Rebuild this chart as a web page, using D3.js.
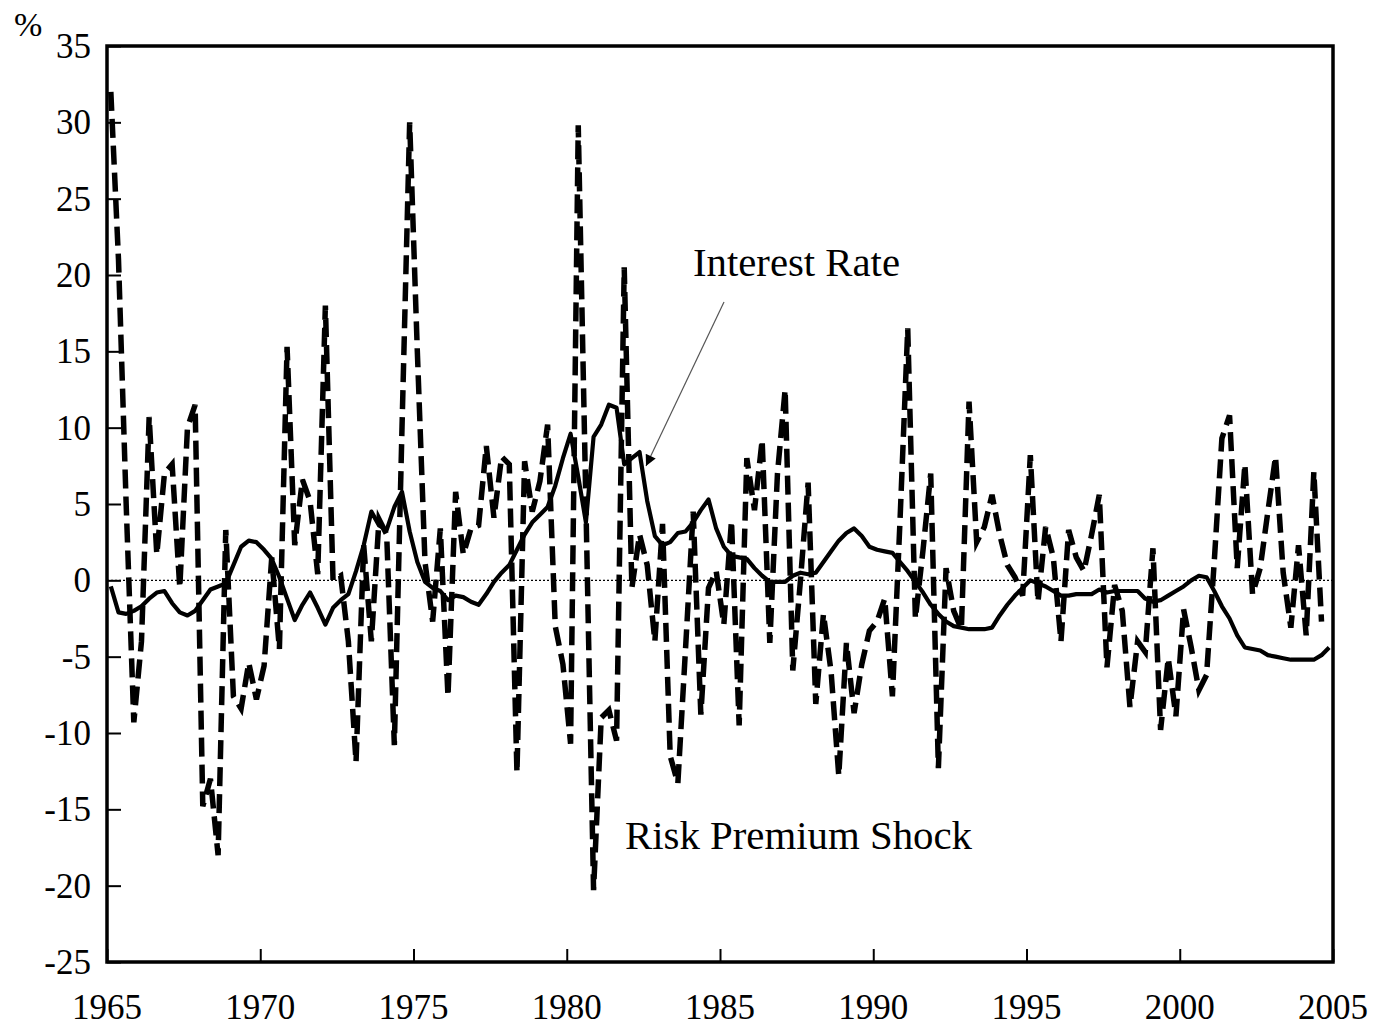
<!DOCTYPE html>
<html>
<head>
<meta charset="utf-8">
<script src="https://cdn.jsdelivr.net/npm/d3@7"></script>
<style>
  html, body { margin: 0; padding: 0; background: #fff; }
  svg { display: block; }
  text { font-family: "Liberation Serif", "Times New Roman", serif; fill: #000; }
</style>
</head>
<body>
<svg id="chart" width="1373" height="1026"></svg>
<script>
// ---- data (quarterly, 1965Q1 onward) ----
const startYear = 1965;
const riskPremium = [
  32, 21, 5, -9.3, -4, 10.7, 1.7, 7, 7.6, -0.5,
  10, 11.5, -14.8, -13, -18, 3.3, -7.6, -8.4, -5.4, -7.8,
  -5.6, 1.5, -4.5, 15.3, 2.3, 6.6, 5.2, 0.4, 18, 0,
  0.3, -4, -11.9, 2.3, -4, 4, 3, -10.8, 10, 30,
  15, 1.2, -2.7, 3.4, -7.6, 5.8, 1.7, 3.4, 3.6, 8.8,
  4.1, 8.1, 7.6, -12.6, 7.8, 4.5, 6.5, 10.2, -3, -5.5,
  -10.7, 29.8, 5, -20.3, -9, -8.5, -10.5, 20.5, -0.5, 3,
  1, -4, 3.7, -11.5, -13.3, -4.5, 4.5, -8.8, -0.5, 0.6,
  -2.9, 3.9, -9.5, 8, 4.6, 9.2, -4.1, 7, 12.5, -5.9,
  0, 6.4, -8.1, -2.2, -6, -12.8, -4.1, -8.7, -5.5, -3.3,
  -2.7, -1.2, -7.6, 4, 16.5, -2.5, 2, 7, -12.3, 0.8,
  -2, -3.2, 11.7, 2.5, 3.5, 5.6, 3, 1, 0.2, -1,
  8.2, -1.4, 3.5, 1.5, -4, 3.3, 1.5, 0.6, 3, 5.6,
  -5.7, -0.3, -2, -8.3, -4, -4.7, 2.1, -9.8, -5.1, -8.9,
  -1.9, -4.4, -7.2, -6.2, 1.2, 9.3, 10.8, 0.8, 7.6, -0.9,
  0.8, 4.5, 8.1, 0.5, -3.1, 2.3, -3.6, 7.1, -2.7
];
const interestRate = [
  -0.4, -2.1, -2.2, -2.0, -1.7, -1.2, -0.8, -0.7, -1.5, -2.1,
  -2.3, -2.0, -1.3, -0.6, -0.4, -0.2, 1.0, 2.2, 2.6, 2.5,
  2.0, 1.4, 0.2, -1.2, -2.6, -1.6, -0.8, -1.8, -2.9, -1.8,
  -1.3, -0.9, 0.6, 2.3, 4.5, 3.6, 3.3, 4.8, 5.8, 3.2,
  1.2, -0.1, -0.5, -0.7, -1.3, -1.0, -1.1, -1.4, -1.6, -0.9,
  -0.1, 0.5, 1.0, 2.0, 3.0, 3.8, 4.3, 4.8, 6.2, 8.0,
  9.6, 6.8, 3.8, 9.4, 10.2, 11.5, 11.3, 7.6, 8.0, 8.4,
  5.2, 2.9, 2.3, 2.5, 3.1, 3.2, 3.8, 4.6, 5.3, 3.4,
  2.2, 1.6, 1.5, 1.4, 0.8, 0.3, -0.1, -0.1, -0.1, 0.3,
  0.5, 0.4, 0.5, 1.2, 1.9, 2.6, 3.1, 3.4, 2.9, 2.2,
  2.0, 1.9, 1.8, 1.2, 0.6, -0.1, -0.8, -1.6, -2.2, -2.7,
  -3.0, -3.1, -3.2, -3.2, -3.2, -3.1, -2.3, -1.6, -1.0, -0.5,
  0.0, -0.2, -0.4, -0.7, -1.0, -1.0, -0.9, -0.9, -0.9, -0.6,
  -0.8, -0.7, -0.7, -0.7, -0.7, -1.2, -1.4, -1.3, -1.0, -0.7,
  -0.4, 0.0, 0.3, 0.2, -0.7, -1.7, -2.5, -3.6, -4.4, -4.5,
  -4.6, -4.9, -5.0, -5.1, -5.2, -5.2, -5.2, -5.2, -4.9, -4.4
];
const yTickValues = [-25, -20, -15, -10, -5, 0, 5, 10, 15, 20, 25, 30, 35];
const xTickValues = [1965, 1970, 1975, 1980, 1985, 1990, 1995, 2000, 2005];
const seriesLabels = ["Interest Rate", "Risk Premium Shock"];
const unitLabel = "%";

(function draw() {
  const svg = d3.select("#chart");
  const pl = 107, pr = 1333, pt = 46, pb = 962;

  const x = d3.scaleLinear().domain([1965, 2005]).range([pl, pr]);
  const y = d3.scaleLinear().domain([-25, 35]).range([pb, pt]);

  // quarter mid-points
  const dateOf = i => startYear + (i + 0.5) / 4;

  // zero reference line (dotted)
  svg.append("line")
    .attr("x1", pl).attr("x2", pr)
    .attr("y1", y(0)).attr("y2", y(0))
    .attr("stroke", "#000").attr("stroke-width", 1.3)
    .attr("stroke-dasharray", "2,2");

  const lineGen = d3.line()
    .x((d, i) => x(dateOf(i)))
    .y(d => y(d));

  svg.append("path")
    .datum(interestRate)
    .attr("d", lineGen)
    .attr("fill", "none")
    .attr("stroke", "#000")
    .attr("stroke-width", 4.2)
    .attr("stroke-linejoin", "round");

  svg.append("path")
    .datum(riskPremium)
    .attr("d", lineGen)
    .attr("fill", "none")
    .attr("stroke", "#000")
    .attr("stroke-width", 5.5)
    .attr("stroke-dasharray", "19,8")
    .attr("stroke-linejoin", "miter");

  // axes (ticks pointing inward)
  const yAxis = d3.axisRight(y).tickValues(yTickValues).tickSize(14).tickFormat("");
  const gy = svg.append("g").attr("transform", `translate(${pl},0)`).call(yAxis);
  gy.select(".domain").remove();
  gy.selectAll(".tick line").attr("stroke", "#000").attr("stroke-width", 2);

  const xAxis = d3.axisTop(x).tickValues(xTickValues).tickSize(13).tickFormat("");
  const gx = svg.append("g").attr("transform", `translate(0,${pb})`).call(xAxis);
  gx.select(".domain").remove();
  gx.selectAll(".tick line").attr("stroke", "#000").attr("stroke-width", 2);

  // frame
  svg.append("rect")
    .attr("x", pl).attr("y", pt)
    .attr("width", pr - pl).attr("height", pb - pt)
    .attr("fill", "none").attr("stroke", "#000").attr("stroke-width", 3.5);

  // tick labels
  svg.append("g").selectAll("text")
    .data(yTickValues).join("text")
    .attr("x", pl - 16)
    .attr("y", d => y(d) + 12)
    .attr("text-anchor", "end")
    .attr("font-size", 35)
    .text(d => d);

  svg.append("g").selectAll("text")
    .data(xTickValues).join("text")
    .attr("x", d => x(d))
    .attr("y", 1019)
    .attr("text-anchor", "middle")
    .attr("font-size", 35)
    .text(d => d);

  // unit label
  svg.append("text").attr("x", 14).attr("y", 36).attr("font-size", 34).text(unitLabel);

  // annotations
  svg.append("text").attr("x", 693).attr("y", 276).attr("font-size", 40)
    .attr("textLength", 207).attr("lengthAdjust", "spacingAndGlyphs")
    .text(seriesLabels[0]);
  svg.append("text").attr("x", 625).attr("y", 849).attr("font-size", 40)
    .attr("textLength", 347).attr("lengthAdjust", "spacingAndGlyphs")
    .text(seriesLabels[1]);

  // arrow
  const defs = svg.append("defs");
  defs.append("marker").attr("id", "ah")
    .attr("viewBox", "0 0 10 10").attr("refX", 10).attr("refY", 5)
    .attr("markerWidth", 16).attr("markerHeight", 11)
    .attr("markerUnits", "userSpaceOnUse")
    .attr("orient", "auto")
    .append("path").attr("d", "M0,0 L10,5 L0,10 z").attr("fill", "#000");
  svg.append("line")
    .attr("x1", 724).attr("y1", 302).attr("x2", 646).attr("y2", 466)
    .attr("stroke", "#555").attr("stroke-width", 1.2)
    .attr("marker-end", "url(#ah)");
})();
</script>
</body>
</html>
